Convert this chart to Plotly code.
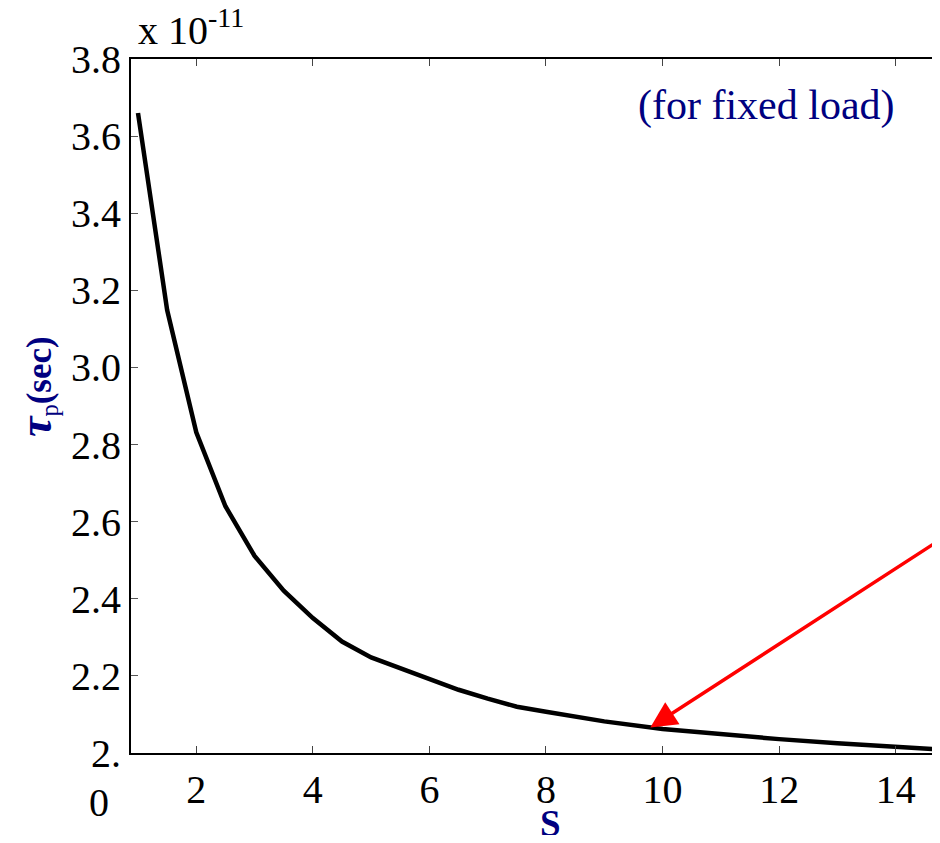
import plotly.graph_objects as go

# Data (tau in units of 1e-11 s)
S = [1, 1.5, 2, 2.5, 3, 3.5, 4, 4.5, 5, 5.5, 6, 6.5, 7, 7.5, 8, 9, 10, 11, 12, 13, 14, 15]
tau_e11 = [3.660, 3.149, 2.832, 2.640, 2.511, 2.421, 2.350, 2.289, 2.248, 2.220,
           2.192, 2.164, 2.141, 2.120, 2.107, 2.082, 2.062, 2.048, 2.036, 2.025,
           2.015, 2.007]

x_ticks = [2, 4, 6, 8, 10, 12, 14]
x_ticktext = ["2", "4", "6", "8", "10", "12", "14"]
y_ticks = [2.0, 2.2, 2.4, 2.6, 2.8, 3.0, 3.2, 3.4, 3.6, 3.8]
y_ticktext = ["2.", "2.2", "2.4", "2.6", "2.8", "3.0", "3.2", "3.4", "3.6", "3.8"]

arrow_tip = (9.79, 2.066)
arrow_tail = (14.76, 2.553)

FONT = "Liberation Serif"
NAVY = "#000080"

# page body has an 8px margin: shrink the figure so the page does not overflow
OFF = 8
W, H = 940 - OFF, 843 - 2 * OFF
L, T = 131 - OFF, 59 - OFF
PW, PH = W - L, 753 - 59


def px(xp):
    return (xp - 131) / PW


def py(yp):
    return (753 - yp) / PH


fig = go.Figure()
fig.add_trace(go.Scatter(x=S, y=tau_e11, mode="lines",
                         line=dict(color="black", width=4.5), showlegend=False))

fig.update_layout(
    width=W, height=H,
    margin=dict(l=L, r=0, t=T, b=H - T - PH),
    paper_bgcolor="white", plot_bgcolor="white",
    font=dict(family=FONT, size=40, color="black"),
    xaxis=dict(range=[0.88, 14.76], tickvals=x_ticks, ticktext=x_ticktext,
               showgrid=False, zeroline=False, showline=True, linecolor="black",
               linewidth=1.5, mirror="ticks", ticks="inside", ticklen=7,
               tickcolor="#444", tickfont=dict(family=FONT, size=40)),
    yaxis=dict(range=[2.0, 3.8], tickvals=y_ticks, ticktext=y_ticktext,
               showgrid=False, zeroline=False, showline=True, linecolor="black",
               linewidth=2, ticks="inside", ticklen=7, tickcolor="#555",
               tickfont=dict(family=FONT, size=40)),
)

ann = [
    dict(text="x 10<sup>-11</sup>", xref="paper", yref="paper", x=px(136), y=py(55),
         xanchor="left", yanchor="bottom", showarrow=False,
         font=dict(family=FONT, size=40, color="black")),
    dict(text="0", xref="paper", yref="paper", x=px(99), y=py(802),
         xanchor="center", yanchor="middle", showarrow=False,
         font=dict(family=FONT, size=40, color="black")),
    dict(text="(for fixed load)", xref="paper", yref="paper", x=px(766), y=py(105),
         xanchor="center", yanchor="middle", showarrow=False,
         font=dict(family=FONT, size=42, color=NAVY)),
    dict(text="<b>S</b>", xref="paper", yref="paper", x=px(550), y=py(823),
         xanchor="center", yanchor="middle", showarrow=False,
         font=dict(family=FONT, size=37, color=NAVY)),
    dict(text="<b><i><span style='font-size:46px'>τ</span></i></b><sub>p</sub><b>(sec)</b>",
         xref="paper", yref="paper",
         x=px(36), y=py(387), textangle=-90,
         xanchor="center", yanchor="middle", showarrow=False,
         font=dict(family=FONT, size=35, color=NAVY)),
    dict(text="", xref="x", yref="y", x=arrow_tip[0], y=arrow_tip[1],
         axref="x", ayref="y", ax=arrow_tail[0], ay=arrow_tail[1],
         showarrow=True, arrowhead=2, arrowsize=1.5, arrowwidth=3.5,
         arrowcolor="#ff0000", standoff=0),
]
fig.update_layout(annotations=ann)

fig.write_html("out.html")
